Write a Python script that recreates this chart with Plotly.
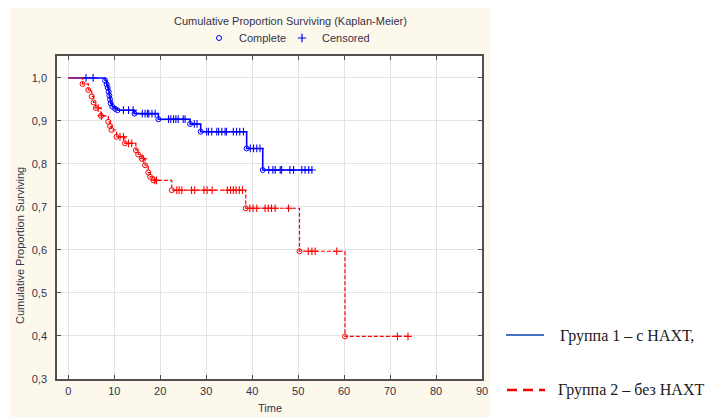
import numpy as np
import plotly.graph_objects as go

# ---------------- data ----------------
g1_time = [0, 8.0, 8.35, 8.57, 8.78, 8.93, 9.07, 9.22, 9.57, 10.2, 10.7,
           14.4, 19.6, 26.5, 28.8, 38.8, 42.3]
g1_surv = [1.0, 0.994, 0.985, 0.977, 0.968, 0.959, 0.950, 0.941, 0.933, 0.928, 0.925,
           0.917, 0.904, 0.893, 0.875, 0.836, 0.786]
g1_end = 53.0
g1_cens = [3.85, 5.4, 12.0, 13.1, 14.1, 16.1, 16.7, 17.2, 17.5, 18.2, 18.9,
           21.8, 22.3, 22.9, 23.4, 23.9, 25.0, 25.4, 27.4, 28.0,
           30.1, 30.5, 31.2, 32.3, 32.7, 33.4, 34.1, 34.4, 35.9, 36.6, 37.3, 38.1,
           39.6, 40.3, 41.0, 41.7,
           43.6, 44.5, 45.0, 46.1, 46.4, 48.2, 49.0, 50.8, 51.5, 52.3, 53.0]

g2_time = [0, 3.1, 4.35, 5.1, 5.5, 6.0, 7.1, 8.7, 9.1, 9.4, 10.5, 12.3, 14.7,
           15.2, 16.0, 16.7, 17.4, 17.8, 18.5, 22.5, 38.6, 50.3, 60.2]
g2_surv = [1.0, 0.986, 0.972, 0.957, 0.943, 0.930, 0.912, 0.898, 0.888, 0.879, 0.863,
           0.848, 0.832, 0.822, 0.812, 0.797, 0.780, 0.770, 0.762, 0.739, 0.697, 0.597, 0.399]
g2_end = 73.9
g2_cens = [6.5, 7.2, 11.25, 12.0, 13.1, 13.8, 16.3, 18.8, 19.2,
           23.6, 24.1, 24.7, 26.8, 27.5, 29.5, 30.2, 31.3, 34.6, 35.3, 35.9, 36.5, 37.2, 37.9,
           39.5, 40.2, 41.0, 42.8, 43.5, 44.2, 45.0, 47.9,
           52.2, 53.0, 53.7, 58.4, 71.6, 73.9]

x_ticks = [0, 10, 20, 30, 40, 50, 60, 70, 80, 90]
y_ticks = [0.3, 0.4, 0.5, 0.6, 0.7, 0.8, 0.9, 1.0]

legend_labels = ["Группа 1 – с НАХТ,", "Группа 2 – без НАХТ"]

BLUE = "#0000FF"
RED = "#FF0000"
TXT = "#33334a"


def step_value(times, surv, t):
    idx = np.searchsorted(np.asarray(times), t, side="right") - 1
    return np.asarray(surv)[idx]


fig = go.Figure()

for times, surv, end, cens, col, dash, width in [
    (g1_time, g1_surv, g1_end, g1_cens, BLUE, "solid", 1.6),
    (g2_time, g2_surv, g2_end, g2_cens, RED, "4px,2px", 1.2),
]:
    xs = list(times) + [end]
    ys = list(surv) + [surv[-1]]
    fig.add_trace(go.Scatter(x=xs, y=ys, mode="lines", line_shape="hv",
                             line=dict(color=col, width=width, dash=dash),
                             showlegend=False, hoverinfo="skip"))
    fig.add_trace(go.Scatter(x=times[1:], y=surv[1:], mode="markers",
                             marker=dict(symbol="circle-open", size=5, color=col,
                                         line=dict(width=1, color=col)),
                             showlegend=False))
    cy = [step_value(times, surv, c) for c in cens]
    fig.add_trace(go.Scatter(x=cens, y=cy, mode="markers",
                             marker=dict(symbol="cross-thin-open", size=5.5, color=col,
                                         line=dict(width=1.1, color=col)),
                             showlegend=False))

# top legend (Complete / Censored)
fig.add_trace(go.Scatter(x=[None], y=[None], mode="markers", name="Complete",
                         marker=dict(symbol="circle-open", size=5, color=BLUE,
                                     line=dict(width=1, color=BLUE)), legend="legend"))
fig.add_trace(go.Scatter(x=[None], y=[None], mode="markers", name="Censored",
                         marker=dict(symbol="cross-thin-open", size=6, color=BLUE,
                                     line=dict(width=1.2, color=BLUE)), legend="legend2"))

L, R, T, B = 57, 709 - 482, 56, 417 - 379
PW, PH = 709 - L - R, 417 - T - B


def px2paper_x(px):
    return (px - L) / PW


def py2paper_y(py):
    return (417 - B - py) / PH


shapes = [
    dict(type="rect", xref="paper", yref="paper", layer="below",
         x0=px2paper_x(10), x1=px2paper_x(490), y0=py2paper_y(8), y1=py2paper_y(430),
         fillcolor="#FDF8EC", line=dict(width=0)),
    dict(type="rect", xref="paper", yref="paper", layer="below",
         x0=0, x1=1, y0=0, y1=1, fillcolor="white", line=dict(width=0)),
    # right-hand legend samples
    dict(type="line", xref="paper", yref="paper",
         x0=px2paper_x(506), x1=px2paper_x(544), y0=py2paper_y(335), y1=py2paper_y(335),
         line=dict(color="#4472C4", width=2)),
    dict(type="line", xref="paper", yref="paper",
         x0=px2paper_x(507), x1=px2paper_x(545), y0=py2paper_y(390), y1=py2paper_y(390),
         line=dict(color=RED, width=2.5, dash="10px,6px")),
]

annotations = [
    dict(text="Cumulative Proportion Surviving (Kaplan-Meier)", xref="paper", yref="paper",
         x=px2paper_x(290), y=py2paper_y(21), showarrow=False, xanchor="center", yanchor="middle",
         font=dict(family="Liberation Sans, Arial", size=11, color=TXT)),
    dict(text="Time", xref="paper", yref="paper",
         x=px2paper_x(270), y=py2paper_y(408), showarrow=False, xanchor="center", yanchor="middle",
         font=dict(family="Liberation Sans, Arial", size=11, color=TXT)),
    dict(text="Cumulative Proportion Surviving", xref="paper", yref="paper", textangle=-90,
         x=px2paper_x(20), y=py2paper_y(246), showarrow=False, xanchor="center", yanchor="middle",
         font=dict(family="Liberation Sans, Arial", size=11, color=TXT)),
    dict(text=legend_labels[0], xref="paper", yref="paper",
         x=px2paper_x(558), y=py2paper_y(336), showarrow=False, xanchor="left", yanchor="middle",
         font=dict(family="Liberation Serif, Times New Roman", size=16, color="#1a1a1a")),
    dict(text=legend_labels[1], xref="paper", yref="paper",
         x=px2paper_x(556), y=py2paper_y(390), showarrow=False, xanchor="left", yanchor="middle",
         font=dict(family="Liberation Serif, Times New Roman", size=16, color="#1a1a1a")),
]

axis_common = dict(showline=True, linecolor="#505050", linewidth=1.5, mirror="ticks",
                   ticks="inside", ticklen=4, tickcolor="#505050", tickwidth=1,
                   showgrid=True, gridcolor="#e3e3e3", gridwidth=1, zeroline=False,
                   tickfont=dict(family="Liberation Sans, Arial", size=11, color=TXT))

leg_common = dict(orientation="h", xanchor="left", yanchor="middle",
                  bgcolor="rgba(0,0,0,0)", itemwidth=30,
                  font=dict(family="Liberation Sans, Arial", size=11, color=TXT))

fig.update_layout(
    width=709, height=417,
    margin=dict(l=L, r=R, t=T, b=B, pad=0),
    paper_bgcolor="white", plot_bgcolor="rgba(0,0,0,0)",
    separators=", ",
    shapes=shapes, annotations=annotations,
    xaxis=dict(range=[-2.46, 90], tickvals=x_ticks, ticklabelstandoff=1, **axis_common),
    yaxis=dict(range=[0.3, 1.051], tickvals=y_ticks, tickformat=".1f",
               ticklabelstandoff=6, **axis_common),
    legend=dict(x=px2paper_x(199), y=py2paper_y(38), **leg_common),
    legend2=dict(x=px2paper_x(282), y=py2paper_y(38), **leg_common),
)

fig.write_html("out.html")
